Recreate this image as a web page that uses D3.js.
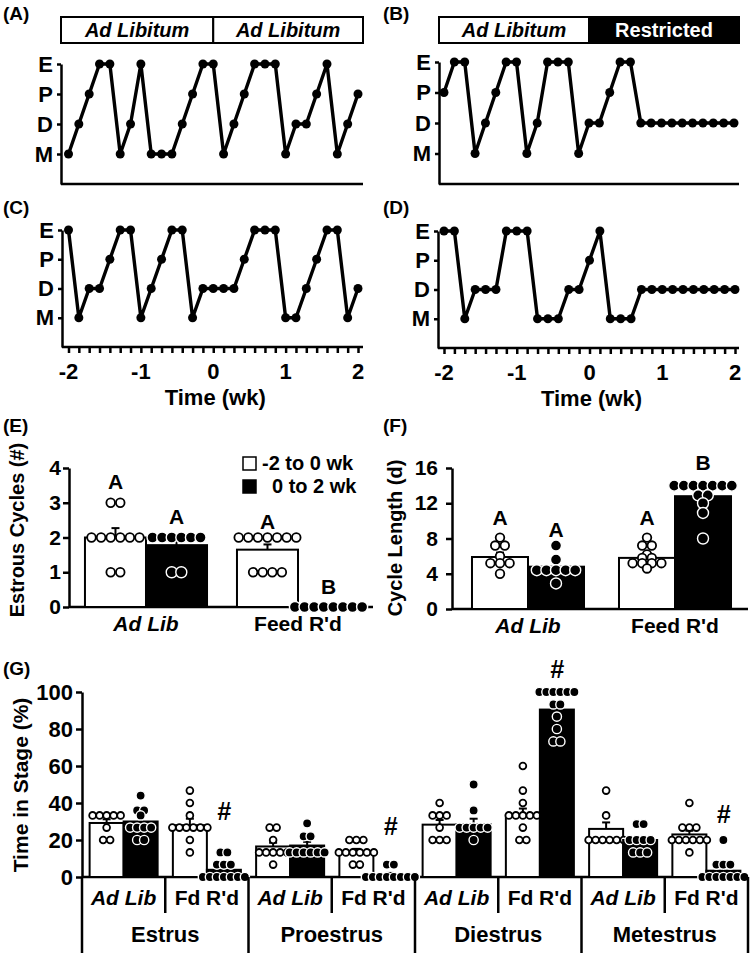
<!DOCTYPE html>
<html>
<head>
<meta charset="utf-8">
<script src="https://cdn.jsdelivr.net/npm/d3@7"></script>
<style>
body { margin: 0; background: #fff; }
svg { font-family: "Liberation Sans", Arial, sans-serif; font-weight: bold; }
</style>
</head>
<body>
<svg id="fig" width="752" height="953"></svg>
<script>
// ---- (A)-(D) daily vaginal cytology, one smear per day from -2 to +2 wk
const stageLevels = ["M", "D", "P", "E"];
const sampleDay = d3.range(29);
const weekTicks = [-2, -1, 0, 1, 2];
const headerA = ["Ad Libitum", "Ad Libitum"];
const headerB = ["Ad Libitum", "Restricted"];
const cycleA = ["M","D","P","E","E","M","D","E","M","M","M","D","P","E","E","M","D","P","E","E","E","M","D","D","P","E","M","D","P"];
const cycleB = ["P","E","E","M","D","P","E","E","M","D","E","E","E","M","D","D","P","E","E","D","D","D","D","D","D","D","D","D","D"];
const cycleC = ["E","M","D","D","P","E","E","M","D","P","E","E","M","D","D","D","D","P","E","E","E","M","M","D","P","E","E","M","D"];
const cycleD = ["E","E","M","D","D","D","E","E","E","M","M","M","D","D","P","E","M","M","M","D","D","D","D","D","D","D","D","D","D"];

// ---- (E) and (F): [group][period]
const groups = ["Ad Lib", "Feed R'd"];
const periods = ["-2 to 0 wk", "0 to 2 wk"];
const cyclesTicks = [0, 1, 2, 3, 4];
const cyclesMean = [[2.0, 1.78], [1.65, 0]];
const cyclesSem = [[0.27, 0.27], [0.15, 0]];
const cyclesDots = [
  [[3, 3, 2, 2, 2, 2, 2, 2, 1, 1], [2, 2, 2, 2, 2, 2, 1, 1]],
  [[2, 2, 2, 2, 2, 2, 2, 1, 1, 1, 1], [0, 0, 0, 0, 0, 0, 0, 0]]
];
const cyclesLetters = [["A", "A"], ["A", "B"]];
const cyclesLetterAt = [[3.6, 2.6], [2.45, 0.58]];

const lengthTicks = [0, 4, 8, 12, 16];
const lengthMean = [[5.9, 4.8], [5.8, 12.8]];
const lengthSem = [[0.5, 0.5], [0.35, 0.6]];
const lengthDots = [
  [[8.1, 7.2, 7.2, 6.0, 5.2, 5.2, 5.2, 4.0], [7.2, 5.6, 4.4, 4.4, 4.4, 4.4, 4.4, 2.9]],
  [[8.1, 7.2, 7.2, 6.2, 5.8, 5.8, 5.2, 5.2, 5.2, 5.2, 4.6], [14, 14, 14, 14, 14, 14, 14, 12.9, 12.9, 12.0, 10.9, 8.0]]
];
const lengthLetters = [["A", "A"], ["A", "B"]];
const lengthLetterAt = [[10.3, 9.0], [10.3, 16.6]];

// ---- (G) time in stage: [stage][adlib pre, adlib post, fd pre, fd post]
const stages = ["Estrus", "Proestrus", "Diestrus", "Metestrus"];
const diets = ["Ad Lib", "Fd R'd"];
const stageTicks = [0, 20, 40, 60, 80, 100];
const stageMean = [
  [29.2, 30.0, 28.0, 3.9],
  [16.5, 17.0, 13.9, 1.3],
  [28.3, 28.5, 33.5, 90.5],
  [26.0, 20.0, 23.0, 3.4]
];
const stageSem = [
  [2.0, 3.5, 3.5, 1.6],
  [2.0, 2.0, 1.3, 0.9],
  [2.5, 3.0, 3.5, 3.0],
  [3.5, 1.5, 2.0, 2.0]
];
const stageDots = [
  [[33.3,33.3,33.3,33.3,33.3,26.7,20,20], [44,36,36,33.3,26.7,26.7,26.7,26.7,20,20],
   [46.7,40,33.3,26.7,26.7,26.7,26.7,26.7,26.7,20,13.3], [13.3,13.3,6.7,6.7,6.7,0,0,0,0,0,0,0]],
  [[26.7,26.7,20,13.3,13.3,13.3,13.3,13.3,6.7], [29,22,22,13.3,13.3,13.3,13.3,13.3,13.3],
   [20,20,20,13.3,13.3,13.3,13.3,13.3,13.3,6.7,6.7], [6.7,6.7,0,0,0,0,0,0,0,0]],
  [[40,33.3,33.3,33.3,26.7,20,20,20], [50,36,26.7,26.7,26.7,26.7,26.7,20],
   [60,46.7,40,33.3,33.3,33.3,33.3,33.3,26.7,20,20], [100,100,100,100,100,100,93.3,93.3,86.7,80,73.3,73.3]],
  [[46.7,33.3,20,20,20,20,20,20], [28.6,28.6,20,20,20,20,13.3,13.3,13.3],
   [40,26.7,26.7,26.7,20,20,20,20,20,20,13.3], [20,6.7,6.7,6.7,0,0,0,0,0,0,0]]
];
const stageSig = ["#", "#", "#", "#"];
const stageSigAt = [35, 27, 112, 33.5];

const svg = d3.select('#fig');
const AXW = 2.5;

function styleAxis(g, size) {
  g.attr('font-family', null).attr('font-size', size);
  g.selectAll('path,line').attr('stroke', '#000').attr('stroke-width', AXW);
  g.selectAll('text').attr('fill', '#000').attr('font-weight', 'bold');
}

function panelLabel(txt, x, y) {
  svg.append('text').attr('x', x).attr('y', y).attr('font-size', 19).text(txt);
}

// one cycle trace panel
function cyclePanel(p) {
  const x = d3.scaleLinear().domain([-2, 2]).range([p.xa, p.xb]);
  const y = d3.scaleLinear().domain([0, 4]).range([p.yBot, p.yTop]);
  const g = svg.append('g');

  if (p.header) {
    const cells = [[p.x0, x(0)], [x(0), p.xEnd]];
    cells.forEach((c, i) => {
      const dark = p.header[i] == "Restricted";
      g.append('rect').attr('x', c[0]).attr('y', 17).attr('width', c[1] - c[0]).attr('height', 26)
        .attr('fill', dark ? '#000' : '#fff').attr('stroke', '#000').attr('stroke-width', 2);
      g.append('text').attr('x', (c[0] + c[1]) / 2).attr('y', 37).attr('text-anchor', 'middle')
        .attr('font-size', 20).attr('font-style', dark ? 'normal' : 'italic')
        .attr('fill', dark ? '#fff' : '#000').text(p.header[i]);
    });
  }

  g.append('g').attr('transform', `translate(${p.x0},0)`)
    .call(d3.axisLeft(y).tickValues([1, 2, 3, 4]).tickFormat(d => stageLevels[d - 1]).tickSize(4).tickSizeOuter(0).tickPadding(4))
    .call(a => styleAxis(a, 22));

  g.append('line').attr('x1', p.x0).attr('x2', p.xEnd).attr('y1', p.yBot).attr('y2', p.yBot)
    .attr('stroke', '#000').attr('stroke-width', AXW);

  if (p.timeAxis) {
    const ax = g.append('g').attr('transform', `translate(0,${p.yBot})`)
      .call(d3.axisBottom(x).tickValues(sampleDay.map(d => -2 + d / 7)).tickSize(6).tickFormat(''));
    ax.select('.domain').remove();
    styleAxis(ax, 20);
    g.selectAll(null).data(weekTicks).enter().append('text')
      .attr('x', d => x(d)).attr('y', p.yBot + 32).attr('text-anchor', 'middle').attr('font-size', 22)
      .text(d => d);
    g.append('text').attr('x', (p.xa + p.xb) / 2 + 2).attr('y', p.yBot + 58).attr('text-anchor', 'middle')
      .attr('font-size', 22).text('Time (wk)');
  }

  const pts = p.series.map((s, i) => ({ t: -2 + sampleDay[i] / 7, v: stageLevels.indexOf(s) + 1 }));
  g.append('path').datum(pts)
    .attr('d', d3.line().x(d => x(d.t)).y(d => y(d.v)))
    .attr('fill', 'none').attr('stroke', '#000').attr('stroke-width', 3.4).attr('stroke-linejoin', 'round');
  g.selectAll('circle').data(pts).enter().append('circle')
    .attr('cx', d => x(d.t)).attr('cy', d => y(d.v)).attr('r', 4.5).attr('fill', '#000');
}

panelLabel('(A)', 3, 20);
panelLabel('(B)', 383, 20);
panelLabel('(C)', 3, 214);
panelLabel('(D)', 383, 214);

cyclePanel({ x0: 61, xa: 68.5, xb: 358, xEnd: 363, yTop: 64, yBot: 184, header: headerA, series: cycleA });
cyclePanel({ x0: 439, xa: 444, xb: 734, xEnd: 739, yTop: 62, yBot: 184, header: headerB, series: cycleB });
cyclePanel({ x0: 62, xa: 68.5, xb: 358, xEnd: 363, yTop: 230, yBot: 347, timeAxis: true, series: cycleC });
cyclePanel({ x0: 438, xa: 444, xb: 735, xEnd: 739, yTop: 231, yBot: 348, timeAxis: true, series: cycleD });

// spread equal values side by side
function spread(vals, cx, gap) {
  const out = [];
  d3.groups(vals, v => v).forEach(([v, arr]) => {
    arr.forEach((_, i) => out.push({ v: v, x: cx + (i - (arr.length - 1) / 2) * gap }));
  });
  return out;
}

function drawBar(g, y, x, w, mean, sem, dots, k, r, gap) {
  const dark = k == 1;
  g.append('rect').attr('x', x).attr('y', y(mean)).attr('width', w).attr('height', y(0) - y(mean))
    .attr('fill', dark ? '#000' : '#fff').attr('stroke', '#000').attr('stroke-width', 2);
  if (sem > 0) {
    const cx = x + w / 2;
    g.append('line').attr('x1', cx).attr('x2', cx).attr('y1', y(mean)).attr('y2', y(mean + sem))
      .attr('stroke', '#000').attr('stroke-width', 2);
    g.append('line').attr('x1', cx - 4).attr('x2', cx + 4).attr('y1', y(mean + sem)).attr('y2', y(mean + sem))
      .attr('stroke', '#000').attr('stroke-width', 2);
  }
  // open markers for -2..0 wk, filled (white rimmed) for 0..2 wk
  g.selectAll(null).data(spread(dots, x + w / 2, gap)).enter().append('circle')
    .attr('cx', d => d.x).attr('cy', d => y(d.v)).attr('r', dark ? r + 1.2 : r)
    .attr('fill', dark ? '#000' : '#fff').attr('stroke', dark ? '#fff' : '#000')
    .attr('stroke-width', dark ? 1.4 : 1.8);
}

// (E) / (F) bar panels
function barPanel(p) {
  const y = d3.scaleLinear().domain([0, p.ticks[p.ticks.length - 1]]).range([p.yBot, p.yTop]);
  const xg = d3.scaleBand().domain(groups).range([p.x0, p.xEnd]).paddingInner(p.pi).paddingOuter(p.po);
  const xp = d3.scaleBand().domain(periods).range([0, xg.bandwidth()]);
  const g = svg.append('g');

  g.append('g').attr('transform', `translate(${p.x0},0)`)
    .call(d3.axisLeft(y).tickValues(p.ticks).tickFormat(d3.format('d')).tickSize(6).tickSizeOuter(0).tickPadding(p.pad))
    .call(a => styleAxis(a, 21));
  g.append('line').attr('x1', p.x0).attr('x2', p.axisEnd).attr('y1', p.yBot).attr('y2', p.yBot)
    .attr('stroke', '#000').attr('stroke-width', AXW);

  groups.forEach((gr, i) => {
    periods.forEach((pe, k) => {
      const bx = xg(gr) + xp(pe);
      drawBar(g, y, bx, xp.bandwidth(), p.mean[i][k], p.sem[i][k], p.dots[i][k], k, 4.3, 9.6);
      g.append('text').attr('x', bx + xp.bandwidth() / 2).attr('y', y(p.letterAt[i][k]) + 7)
        .attr('text-anchor', 'middle').attr('font-size', 21).text(p.letters[i][k]);
    });
    g.append('text').attr('x', xg(gr) + xg.bandwidth() / 2).attr('y', p.yBot + 24)
      .attr('text-anchor', 'middle').attr('font-size', 21).attr('font-style', i == 0 ? 'italic' : 'normal')
      .text(gr);
  });

  g.append('text').attr('transform', `translate(${p.labelX},${p.labelY}) rotate(-90)`)
    .attr('text-anchor', 'middle').attr('font-size', 20).text(p.label);
}

panelLabel('(E)', 3, 432);
panelLabel('(F)', 383, 432);

barPanel({ x0: 69, xEnd: 375, axisEnd: 373, pi: 0.197, po: 0.105, yTop: 468, yBot: 607, ticks: cyclesTicks, pad: 2,
  mean: cyclesMean, sem: cyclesSem, dots: cyclesDots, letters: cyclesLetters, letterAt: cyclesLetterAt,
  label: 'Estrous Cycles (#)', labelX: 24, labelY: 530 });
barPanel({ x0: 452, xEnd: 751, axisEnd: 748, pi: 0.238, po: 0.136, yTop: 468, yBot: 609, ticks: lengthTicks, pad: 8,
  mean: lengthMean, sem: lengthSem, dots: lengthDots, letters: lengthLetters, letterAt: lengthLetterAt,
  label: 'Cycle Length (d)', labelX: 402, labelY: 538 });

// legend for E
const legend = svg.append('g');
periods.forEach((pe, k) => {
  legend.append('rect').attr('x', 243).attr('y', 457 + k * 23).attr('width', 13).attr('height', 13)
    .attr('fill', k ? '#000' : '#fff').attr('stroke', '#000').attr('stroke-width', 1.5);
  legend.append('text').attr('x', k ? 272 : 262).attr('y', 470 + k * 23).attr('font-size', 20).text(pe);
});

// (G) time in stage
panelLabel('(G)', 3, 675);
(function () {
  const y = d3.scaleLinear().domain([0, 100]).range([877, 692]);
  const keys = [];
  stages.forEach(s => diets.forEach(d => keys.push(s + '|' + d)));
  const xg = d3.scaleBand().domain(keys).range([82, 748]).paddingInner(0.183).paddingOuter(0.0915);
  const xp = d3.scaleBand().domain(periods).range([0, xg.bandwidth()]);
  const step = xg.step();
  const g = svg.append('g');

  g.append('g').attr('transform', 'translate(82,0)')
    .call(d3.axisLeft(y).tickValues(stageTicks).tickSize(6).tickSizeOuter(0).tickPadding(3))
    .call(a => styleAxis(a, 22));
  g.append('line').attr('x1', 82).attr('x2', 748).attr('y1', 877).attr('y2', 877)
    .attr('stroke', '#000').attr('stroke-width', AXW);

  stages.forEach((s, si) => {
    diets.forEach((d, di) => {
      const key = s + '|' + d;
      periods.forEach((pe, k) => {
        const j = di * 2 + k;
        drawBar(g, y, xg(key) + xp(pe), xp.bandwidth(), stageMean[si][j], stageSem[si][j], stageDots[si][j], k, 3.4, 7);
      });
      g.append('text').attr('x', xg(key) + xg.bandwidth() / 2).attr('y', 905).attr('text-anchor', 'middle')
        .attr('font-size', 21).attr('font-style', di == 0 ? 'italic' : 'normal').text(d);
    });
    const fd = xg(s + '|' + diets[1]) + xp(periods[1]) + xp.bandwidth() / 2;
    g.append('text').attr('x', fd).attr('y', y(stageSigAt[si]) + 8).attr('text-anchor', 'middle')
      .attr('font-size', 25).attr('font-style', 'italic').text(stageSig[si]);
    g.append('text').attr('x', 82 + (2 * si + 1) * step).attr('y', 942).attr('text-anchor', 'middle')
      .attr('font-size', 22).text(s);
  });

  // table rules under the axis
  d3.range(9).forEach(i => {
    const full = i % 2 == 0;
    g.append('line').attr('x1', 82 + i * step).attr('x2', 82 + i * step)
      .attr('y1', 877).attr('y2', full ? 953 : 913).attr('stroke', '#000').attr('stroke-width', AXW);
  });

  g.append('text').attr('transform', 'translate(28,785) rotate(-90)')
    .attr('text-anchor', 'middle').attr('font-size', 21).text('Time in Stage (%)');
})();
</script>
</body>
</html>
